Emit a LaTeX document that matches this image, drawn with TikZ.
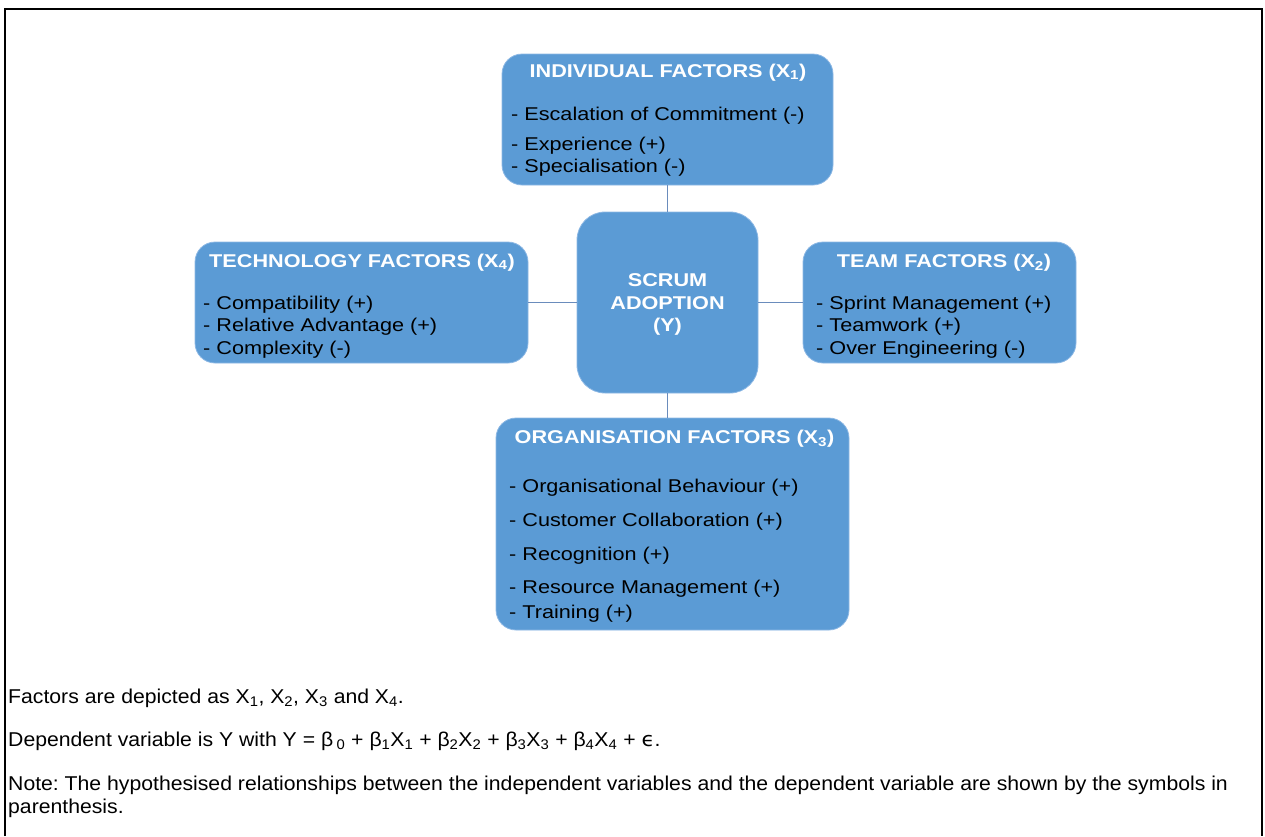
\documentclass[tikz,border=0pt]{standalone}
\usepackage{fontspec}
\setmainfont{Liberation Sans}
\newfontfamily\boxfont{Liberation Sans}[FakeStretch=1.17]
\newfontfamily\notefont{Liberation Sans}[FakeStretch=1.06]
\newfontfamily\symfont{DejaVu Sans}[FakeStretch=1.06]
\definecolor{boxblue}{HTML}{5B9BD5}
\definecolor{boxedge}{HTML}{8DB8E4}
\definecolor{linkblue}{HTML}{6A8CBC}
\newcommand{\lowdigit}[1]{\textsubscript{#1}}
\frenchspacing
\tikzset{
  factorbox/.style={draw=boxedge, line width=0.8pt, fill=boxblue, rounded corners=20pt, inner sep=0pt},
  centrebox/.style={factorbox, rounded corners=28pt},
  boxtitle/.style={anchor=base, inner sep=0pt, text=white, font=\boxfont\bfseries\fontsize{18.5}{22}\selectfont},
  boxitem/.style={anchor=base west, inner sep=0pt, text=black, font=\boxfont\fontsize{18.5}{22}\selectfont},
  link/.style={draw=linkblue, line width=1.3pt},
  note/.style={anchor=base west, inner sep=0pt, font=\notefont\fontsize{20}{23}\selectfont},
}
\begin{document}
\begin{tikzpicture}[x=1pt,y=-1pt]
\useasboundingbox (0,0) rectangle (1265,836);
% outer frame, open at the bottom
\draw[line width=2pt] (5,836) -- (5,9) -- (1262,9) -- (1262,836);

% boxes
\node[factorbox, minimum width=331pt, minimum height=131pt] (ind) at (667.5,119.5) {};
\node[factorbox, minimum width=333pt, minimum height=121pt] (tech) at (361.5,302.5) {};
\node[factorbox, minimum width=273pt, minimum height=121pt] (team) at (939.5,302.5) {};
\node[centrebox, minimum width=181pt, minimum height=181pt] (scrum) at (667.5,302.5) {};
\node[factorbox, minimum width=353pt, minimum height=212pt] (org) at (672.5,524) {};

% connectors
\draw[link] (ind.south) -- (scrum.north);
\draw[link] (scrum.south) -- (scrum.south |- org.north);
\draw[link] (tech.east) -- (scrum.west);
\draw[link] (scrum.east) -- (team.west);

% centre
\node[boxtitle] (scrumA) at (667.5,286.5) {SCRUM};
\node[boxtitle] (scrumB) at (667.5,309) {ADOPTION};
\node[boxtitle] (scrumC) at (667.5,331.5) {(Y)};

% individual factors
\node[boxtitle] (indT) at (668,77) {INDIVIDUAL FACTORS (X\lowdigit{1})};
\node[boxitem] (ind1) at (511,120) {- Escalation of Commitment (-)};
\node[boxitem] (ind2) at (511,150) {- Experience (+)};
\node[boxitem] (ind3) at (511,172.5) {- Specialisation (-)};

% technology factors
\node[boxtitle] (techT) at (362,267) {TECHNOLOGY FACTORS (X\lowdigit{4})};
\node[boxitem] (tech1) at (203,309) {- Compatibility (+)};
\node[boxitem] (tech2) at (203,331.5) {- Relative Advantage (+)};
\node[boxitem] (tech3) at (203,354) {- Complexity (-)};

% team factors
\node[boxtitle] (teamT) at (944,267) {TEAM FACTORS (X\lowdigit{2})};
\node[boxitem] (team1) at (816,309) {- Sprint Management (+)};
\node[boxitem] (team2) at (816,331.5) {- Teamwork (+)};
\node[boxitem] (team3) at (816,354) {- Over Engineering (-)};

% organisation factors
\node[boxtitle] (orgT) at (674.5,443.5) {ORGANISATION FACTORS (X\lowdigit{3})};
\node[boxitem] (org1) at (509,492.5) {- Organisational Behaviour (+)};
\node[boxitem] (org2) at (509,526) {- Customer Collaboration (+)};
\node[boxitem] (org3) at (509,560) {- Recognition (+)};
\node[boxitem] (org4) at (509,593.5) {- Resource Management (+)};
\node[boxitem] (org5) at (509,618) {- Training (+)};

% notes under the diagram
\node[note] (n1) at (8,703) {Factors are depicted as X\lowdigit{1}, X\lowdigit{2}, X\lowdigit{3} and X\lowdigit{4}.};
\node[note] (n2) at (8,746) {Dependent variable is Y with Y = β\,\lowdigit{0} + β\lowdigit{1}X\lowdigit{1} + β\lowdigit{2}X\lowdigit{2} + β\lowdigit{3}X\lowdigit{3} + β\lowdigit{4}X\lowdigit{4} + {\symfont ϵ}.};
\node[note] (n3) at (8,790) {Note: The hypothesised relationships between the independent variables and the dependent variable are shown by the symbols in};
\node[note] (n4) at (8,813) {parenthesis.};
\end{tikzpicture}
\end{document}
